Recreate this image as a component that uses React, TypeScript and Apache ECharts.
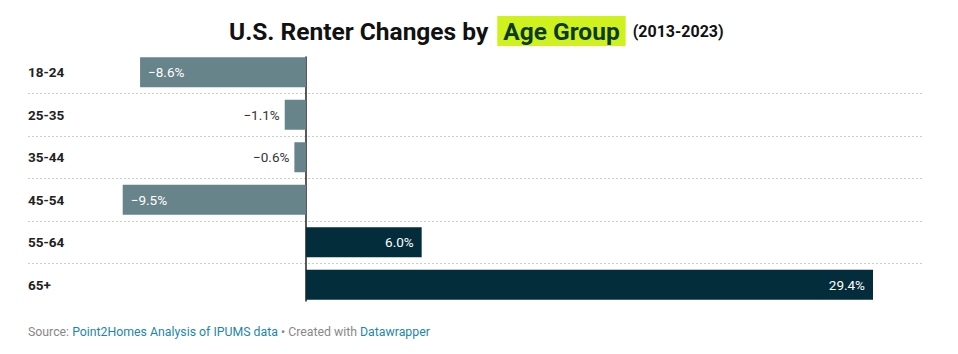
import React, { useEffect, useRef } from "react";
import * as echarts from "echarts";

const categories = ["18-24", "25-35", "35-44", "45-54", "55-64", "65+"];
const values = [-8.6, -1.1, -0.6, -9.5, 6.0, 29.4];
const titleMain = "U.S. Renter Changes by";
const titleHighlight = "Age Group";
const titleYears = "(2013-2023)";

const NEG = "#67848b";
const POS = "#032d3b";

function fmt(v: number): string {
  const s = Math.abs(v).toFixed(1) + "%";
  return v < 0 ? "\u2212" + s : s;
}

export default function App() {
  const ref = useRef<HTMLDivElement>(null);
  useEffect(() => {
    if (!ref.current) return;
    const chart = echarts.init(ref.current, null, { renderer: "svg" });
    const xMin = -14.41;
    const xMax = 31.94;
    const data = values.map((v) => {
      const big = Math.abs(v) >= 3;
      let position: any;
      if (v >= 0) position = big ? "insideRight" : "right";
      else position = big ? "insideLeft" : "left";
      return {
        value: v,
        itemStyle: { color: v < 0 ? NEG : POS },
        label: {
          show: true,
          position,
          distance: big ? 8 : 5,
          color: big ? "#ffffff" : "#333333",
          fontSize: 13.5,
          fontFamily: "Roboto",
          formatter: () => fmt(v),
        },
      };
    });
    chart.setOption({
      animation: false,
      title: {
        left: 224,
        top: 11,
        text: `{a|${titleMain}}{s1| }{b|${titleHighlight}}{s2| }{c|${titleYears}}`,
        textStyle: {
          rich: {
            a: { fontFamily: "Roboto", fontWeight: "bold", fontSize: 24.5, color: "#111111" },
            s1: { width: 9, fontSize: 10 },
            s2: { width: 7, fontSize: 10 },
            b: {
              fontFamily: "Roboto",
              fontWeight: "bold",
              fontSize: 24.5,
              color: "#0b3a2a",
              backgroundColor: "#cff21e",
              padding: [3, 6, 2, 6],
            },
            c: { fontFamily: "Roboto", fontWeight: "bold", fontSize: 16, color: "#111111" },
          },
        },
      },
      grid: [
        { left: 28, right: 36, top: 51, bottom: 48, containLabel: false },
        { left: 28, right: 36, top: 57, bottom: 53, containLabel: false },
      ],
      xAxis: [
        { gridIndex: 0, type: "value", min: xMin, max: xMax, show: false },
        { gridIndex: 1, type: "value", min: xMin, max: xMax, show: false },
      ],
      yAxis: [
        {
          gridIndex: 0,
          type: "category",
          data: categories,
          inverse: true,
          axisLine: { show: false, onZero: false },
          axisTick: { show: false },
          axisLabel: {
            inside: true,
            margin: 0,
            align: "left",
            fontFamily: "Roboto",
            fontWeight: "bold",
            fontSize: 13.5,
            color: "#222222",
          },
          splitLine: {
            show: true,
            showMinLine: false,
            showMaxLine: false,
            lineStyle: { color: "#cccccc", type: [2, 2], width: 1 },
          },
        },
        {
          gridIndex: 1,
          type: "category",
          data: categories,
          inverse: true,
          axisLine: { show: true, onZero: true, lineStyle: { color: "#222222", width: 1.5 } },
          axisTick: { show: false },
          axisLabel: { show: false },
          splitLine: { show: false },
        },
      ],
      series: [
        {
          type: "bar",
          xAxisIndex: 0,
          yAxisIndex: 0,
          data,
          barWidth: 30,
          z: 2,
        },
      ],
      graphic: [
        {
          type: "text",
          left: 28,
          top: 326,
          style: {
            text: "{g|Source: }{l|Point2Homes Analysis of IPUMS data}{g| \u2022 Created with }{l|Datawrapper}",
            rich: {
              g: { fontFamily: "Roboto", fontSize: 12.3, fill: "#888888", color: "#888888" },
              l: { fontFamily: "Roboto", fontSize: 12.3, fill: "#1d86ab", color: "#1d86ab" },
            },
          } as any,
        },
      ],
    });
    return () => chart.dispose();
  }, []);
  return <div ref={ref} style={{ width: 958, height: 354, position: "absolute", left: 0, top: 0 }} />;
}
